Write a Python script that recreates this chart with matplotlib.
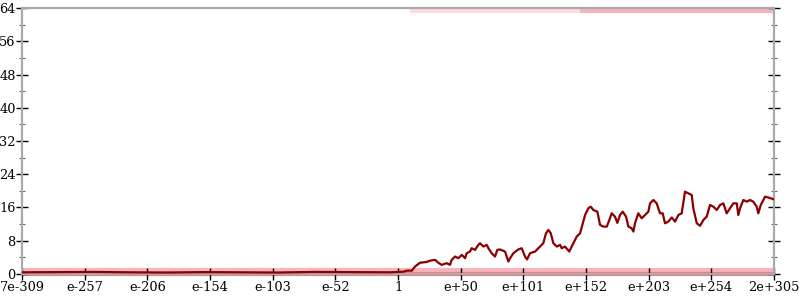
import numpy as np
import matplotlib
matplotlib.use("Agg")
import matplotlib.pyplot as plt

plt.rcParams["font.family"] = ["DejaVu Serif"]

# x positions are decimal exponents (log10 of the value)
x_min, x_max = -308.15, 305.3
tick_labels = ["7e-309", "e-257", "e-206", "e-154", "e-103", "e-52", "1",
               "e+50", "e+101", "e+152", "e+203", "e+254", "2e+305"]

line_x = [-308.15, -280, -250, -220, -190, -160, -130, -100, -70, -40, -16,
          -7.9, 2.9, 5.7, 9.8, 12.5, 16.5, 22.0, 24.7, 28.8, 31.5, 34.2, 38.3,
          41.0, 42.4, 45.1, 47.8, 50.6, 53.3, 54.6, 57.3, 58.7, 61.4, 64.1,
          65.5, 68.2, 71.0, 72.3, 75.0, 77.7, 79.6, 81.8, 85.9, 88.6, 90.0,
          92.7, 96.7, 99.5, 102.2, 103.8, 106.3, 110.4, 114.4, 117.1, 119.3,
          121.2, 123.2, 125.3, 128.1, 130.8, 132.1, 134.8, 138.3, 141.6, 144.4,
          147.1, 151.2, 153.8, 155.8, 157.9, 161.2, 163.4, 166.1, 168.9, 171.0,
          172.9, 175.6, 177.5, 179.7, 181.9, 184.6, 186.5, 189.2, 190.6, 191.9,
          194.6, 197.4, 200.1, 202.8, 204.2, 206.9, 209.6, 212.3, 214.5, 216.4,
          219.1, 221.9, 224.6, 227.3, 230.0, 232.7, 235.4, 238.2, 239.5, 242.3,
          245.0, 247.7, 250.4, 253.1, 255.8, 258.6, 261.3, 264.0, 266.7, 269.4,
          272.1, 274.9, 276.2, 277.6, 280.3, 283.1, 285.8, 288.4, 291.2, 292.5,
          294.5, 298.0, 300.7, 304.8]
line_y = [0.4, 0.45, 0.5, 0.4, 0.35, 0.45, 0.4, 0.35, 0.5, 0.45, 0.4,
          0.4, 0.55, 0.8, 0.8, 1.8, 2.7, 2.9, 3.2, 3.4, 2.7, 2.2, 2.6,
          2.2, 3.4, 4.2, 3.8, 4.6, 3.8, 5.0, 5.4, 6.2, 5.8, 7.0,
          7.4, 6.6, 7.0, 6.2, 5.0, 4.2, 5.8, 5.9, 5.4, 3.0, 3.8,
          5.0, 5.9, 6.2, 4.2, 3.5, 5.0, 5.4, 6.6, 7.4, 9.8,
          10.6, 9.8, 7.4, 6.6, 7.0, 6.2, 6.6, 5.4, 7.4, 9.0,
          9.8, 14.2, 15.8, 16.2, 15.4, 15.0, 11.8, 11.4, 11.4, 13.0,
          14.6, 13.8, 12.3, 14.2, 15.0, 13.8, 11.4, 11.0, 10.2, 12.2,
          14.6, 13.4, 14.2, 15.0, 17.0, 17.8, 17.0, 14.6, 14.6, 12.2,
          12.6, 13.6, 12.6, 14.2, 14.6, 19.8, 19.4, 19.0, 15.8, 12.2,
          11.6, 13.0, 13.8, 16.6, 16.2, 15.4, 16.6, 17.0, 14.6, 15.8,
          17.0, 17.0, 14.2, 15.8, 17.8, 17.4, 17.8, 17.4, 16.2, 14.6,
          16.6, 18.6, 18.4, 18.0]

# faint sample bands (level, start, end, alpha)
bands = [(0.1, -308.15, 305.3, 0.7), (1.0, -308.15, 305.3, 0.4),
         (63.4, 8.4, 147.1, 0.18), (63.4, 147.1, 304.5, 0.4)]

fig = plt.figure(figsize=(8, 3), dpi=100)
ax = fig.add_axes([0.0275, 0.0867, 0.94, 0.8866])

for level, start, end, alpha in bands:
    ax.hlines(level, start, end, color="#ee4455", alpha=alpha, linewidth=3.0,
              clip_on=False, zorder=1)

ax.plot(line_x, line_y, color="#8b0000", linewidth=1.6, zorder=3)

ax.set_xlim(x_min, x_max)
ax.set_ylim(0, 64)
ax.set_xticks(np.linspace(x_min, x_max, len(tick_labels)))
ax.set_xticklabels(tick_labels)
ax.set_yticks(range(0, 65, 8))
ax.set_yticks(range(4, 64, 8), minor=True)

for side in ["left", "right", "top", "bottom"]:
    ax.spines[side].set_color("#aaaaaa")
    ax.spines[side].set_linewidth(1.6)

ax.tick_params(axis="x", direction="inout", length=8, width=1, pad=1,
               labelsize=9.3)
ax.tick_params(axis="y", which="major", direction="inout", length=8, width=1,
               pad=0.5, labelsize=9.3, right=True)
ax.tick_params(axis="y", which="minor", direction="inout", length=4.5, width=0.8,
               color="#666666", right=True)

fig.savefig("out.png", dpi=100)
